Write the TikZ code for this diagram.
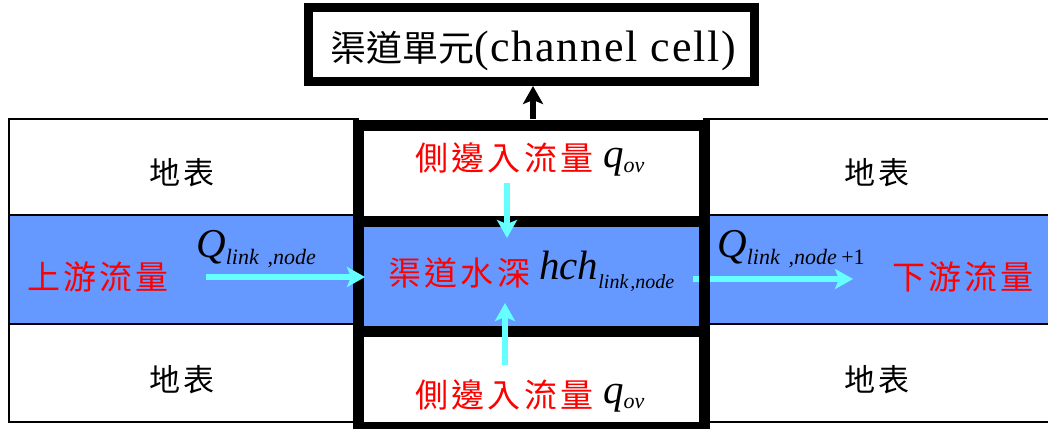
\documentclass[tikz,border=0pt]{standalone}
\usepackage{fontspec}
\setmainfont{Liberation Serif}
\newfontfamily\cjk{Noto Sans CJK TC}
\usetikzlibrary{arrows.meta}

\definecolor{water}{HTML}{6699FF}
\definecolor{flowcyan}{HTML}{66FFFF}
\definecolor{labelred}{HTML}{FF0000}

% spaced CJK text: #1 size, #2 letter spacing, #3 text
\newcommand\zh[3]{{\fontsize{#1}{#1}\selectfont\cjk\addfontfeature{LetterSpace=#2}#3}}
% italic symbol with lowered italic subscript: #1 base size, #2 base, #3 sub size, #4 subscript, #5 drop
\newcommand\isym[5]{{\fontsize{#1}{#1}\selectfont\itshape #2}\raisebox{-#5}{\fontsize{#3}{#3}\selectfont\itshape #4}}

\tikzset{
  soil/.style={draw, line width=1.5pt, fill=white, inner sep=0pt, outer sep=0pt},
  band/.style={soil, fill=water},
  thickcell/.style={draw, line width=11pt, fill=white, inner sep=0pt, outer sep=0pt, minimum width=346pt},
  titlebox/.style={draw, line width=9pt, fill=white, inner sep=0pt, outer sep=0pt},
  txt/.style={inner sep=0pt},
  flow/.style={draw=flowcyan, line width=6pt, -{Stealth[length=18pt,width=20pt,inset=4pt]}},
  feed/.style={draw=black, line width=6.5pt, -{Stealth[length=18pt,width=20pt,inset=4pt]}},
}

\begin{document}
\begin{tikzpicture}[x=1pt,y=-1pt]
\useasboundingbox (0,0) rectangle (1048,428);

% land and river cells on both sides
\node[soil, minimum width=349pt, minimum height=96pt] (ltop) at (183.5,167) {};
\node[band, minimum width=349pt, minimum height=109pt] (lmid) at (183.5,269.5) {};
\node[soil, minimum width=349pt, minimum height=98pt] (lbot) at (183.5,373) {};
\node[soil, minimum width=348pt, minimum height=96pt] (rtop) at (878,167) {};
\node[band, minimum width=348pt, minimum height=109pt] (rmid) at (878,269.5) {};
\node[soil, minimum width=348pt, minimum height=98pt] (rbot) at (878,373) {};

% channel cell with heavy border
\node[thickcell, minimum height=96pt] (ctop) at (531,173) {};
\node[thickcell, minimum height=110pt, fill=water] (chan) at (531,276) {};
\node[thickcell, minimum height=96pt] (cbot) at (531,379) {};

% title box
\node[titlebox, minimum width=446pt, minimum height=73pt] (cell) at (531,44.5) {};
\node[txt, anchor=base] (celltxt) at (533,62) {\zh{36}{0}{渠道單元}{\fontsize{44}{44}\selectfont\addfontfeature{LetterSpace=4}(channel cell)}};

% surface labels
\node[txt] (s1) at (182,173) {\zh{31}{10}{地表}};
\node[txt] (s2) at (877,173) {\zh{31}{10}{地表}};
\node[txt] (s3) at (182,380) {\zh{31}{10}{地表}};
\node[txt] (s4) at (877,380) {\zh{31}{10}{地表}};

% flow labels
\node[txt, anchor=west, text=labelred] (up) at (27,277) {\zh{33}{9}{上游流量}};
\node[txt, anchor=west, text=labelred] (down) at (892,277) {\zh{33}{9}{下游流量}};
\node[txt, anchor=west, text=labelred] (depth) at (388,273) {\zh{33}{10}{渠道水深}};
\node[txt, anchor=west, text=labelred] (lat1) at (415,158) {\zh{33}{10}{側邊入流量}};
\node[txt, anchor=west, text=labelred] (lat2) at (415,395) {\zh{33}{10}{側邊入流量}};

\node[txt, anchor=base west] (qin) at (196,257) {\isym{41}{Q}{22}{link\hspace{0.4em},node}{7pt}};
\node[txt, anchor=base west] (qout) at (717,257) {\isym{41}{Q}{22}{link\hspace{0.4em},node\hspace{0.2em}{\upshape +1}}{7pt}};
\node[txt, anchor=base west] (hch) at (539,279) {\isym{41}{hch}{20}{link\hspace{0.1em},node}{9pt}};
\node[txt, anchor=base west] (qov1) at (603,167) {\isym{41}{q}{22}{ov}{5pt}};
\node[txt, anchor=base west] (qov2) at (603,403) {\isym{41}{q}{22}{ov}{5pt}};

% flow arrows
\coordinate (inflow) at (206,277);
\coordinate (outend) at (853,279);
\coordinate (topsrc) at (507,183);
\coordinate (botsrc) at (505,365);
\draw[flow] (inflow) -- ([xshift=7pt]chan.west |- inflow);
\draw[flow] ([xshift=-11pt]chan.east |- outend) -- (outend);
\draw[flow] (topsrc) -- ([yshift=-17pt]chan.north -| topsrc);
\draw[flow] (botsrc) -- ([yshift=28pt]chan.south -| botsrc);
\draw[line width=11pt, shorten <=-5.5pt, shorten >=-5.5pt] (chan.north east) -- (chan.south east);

% link from the channel cell to its title
\draw[feed] ([xshift=2pt,yshift=6pt]ctop.north) -- ([xshift=2pt,yshift=-5pt]cell.south);
\end{tikzpicture}
\end{document}
